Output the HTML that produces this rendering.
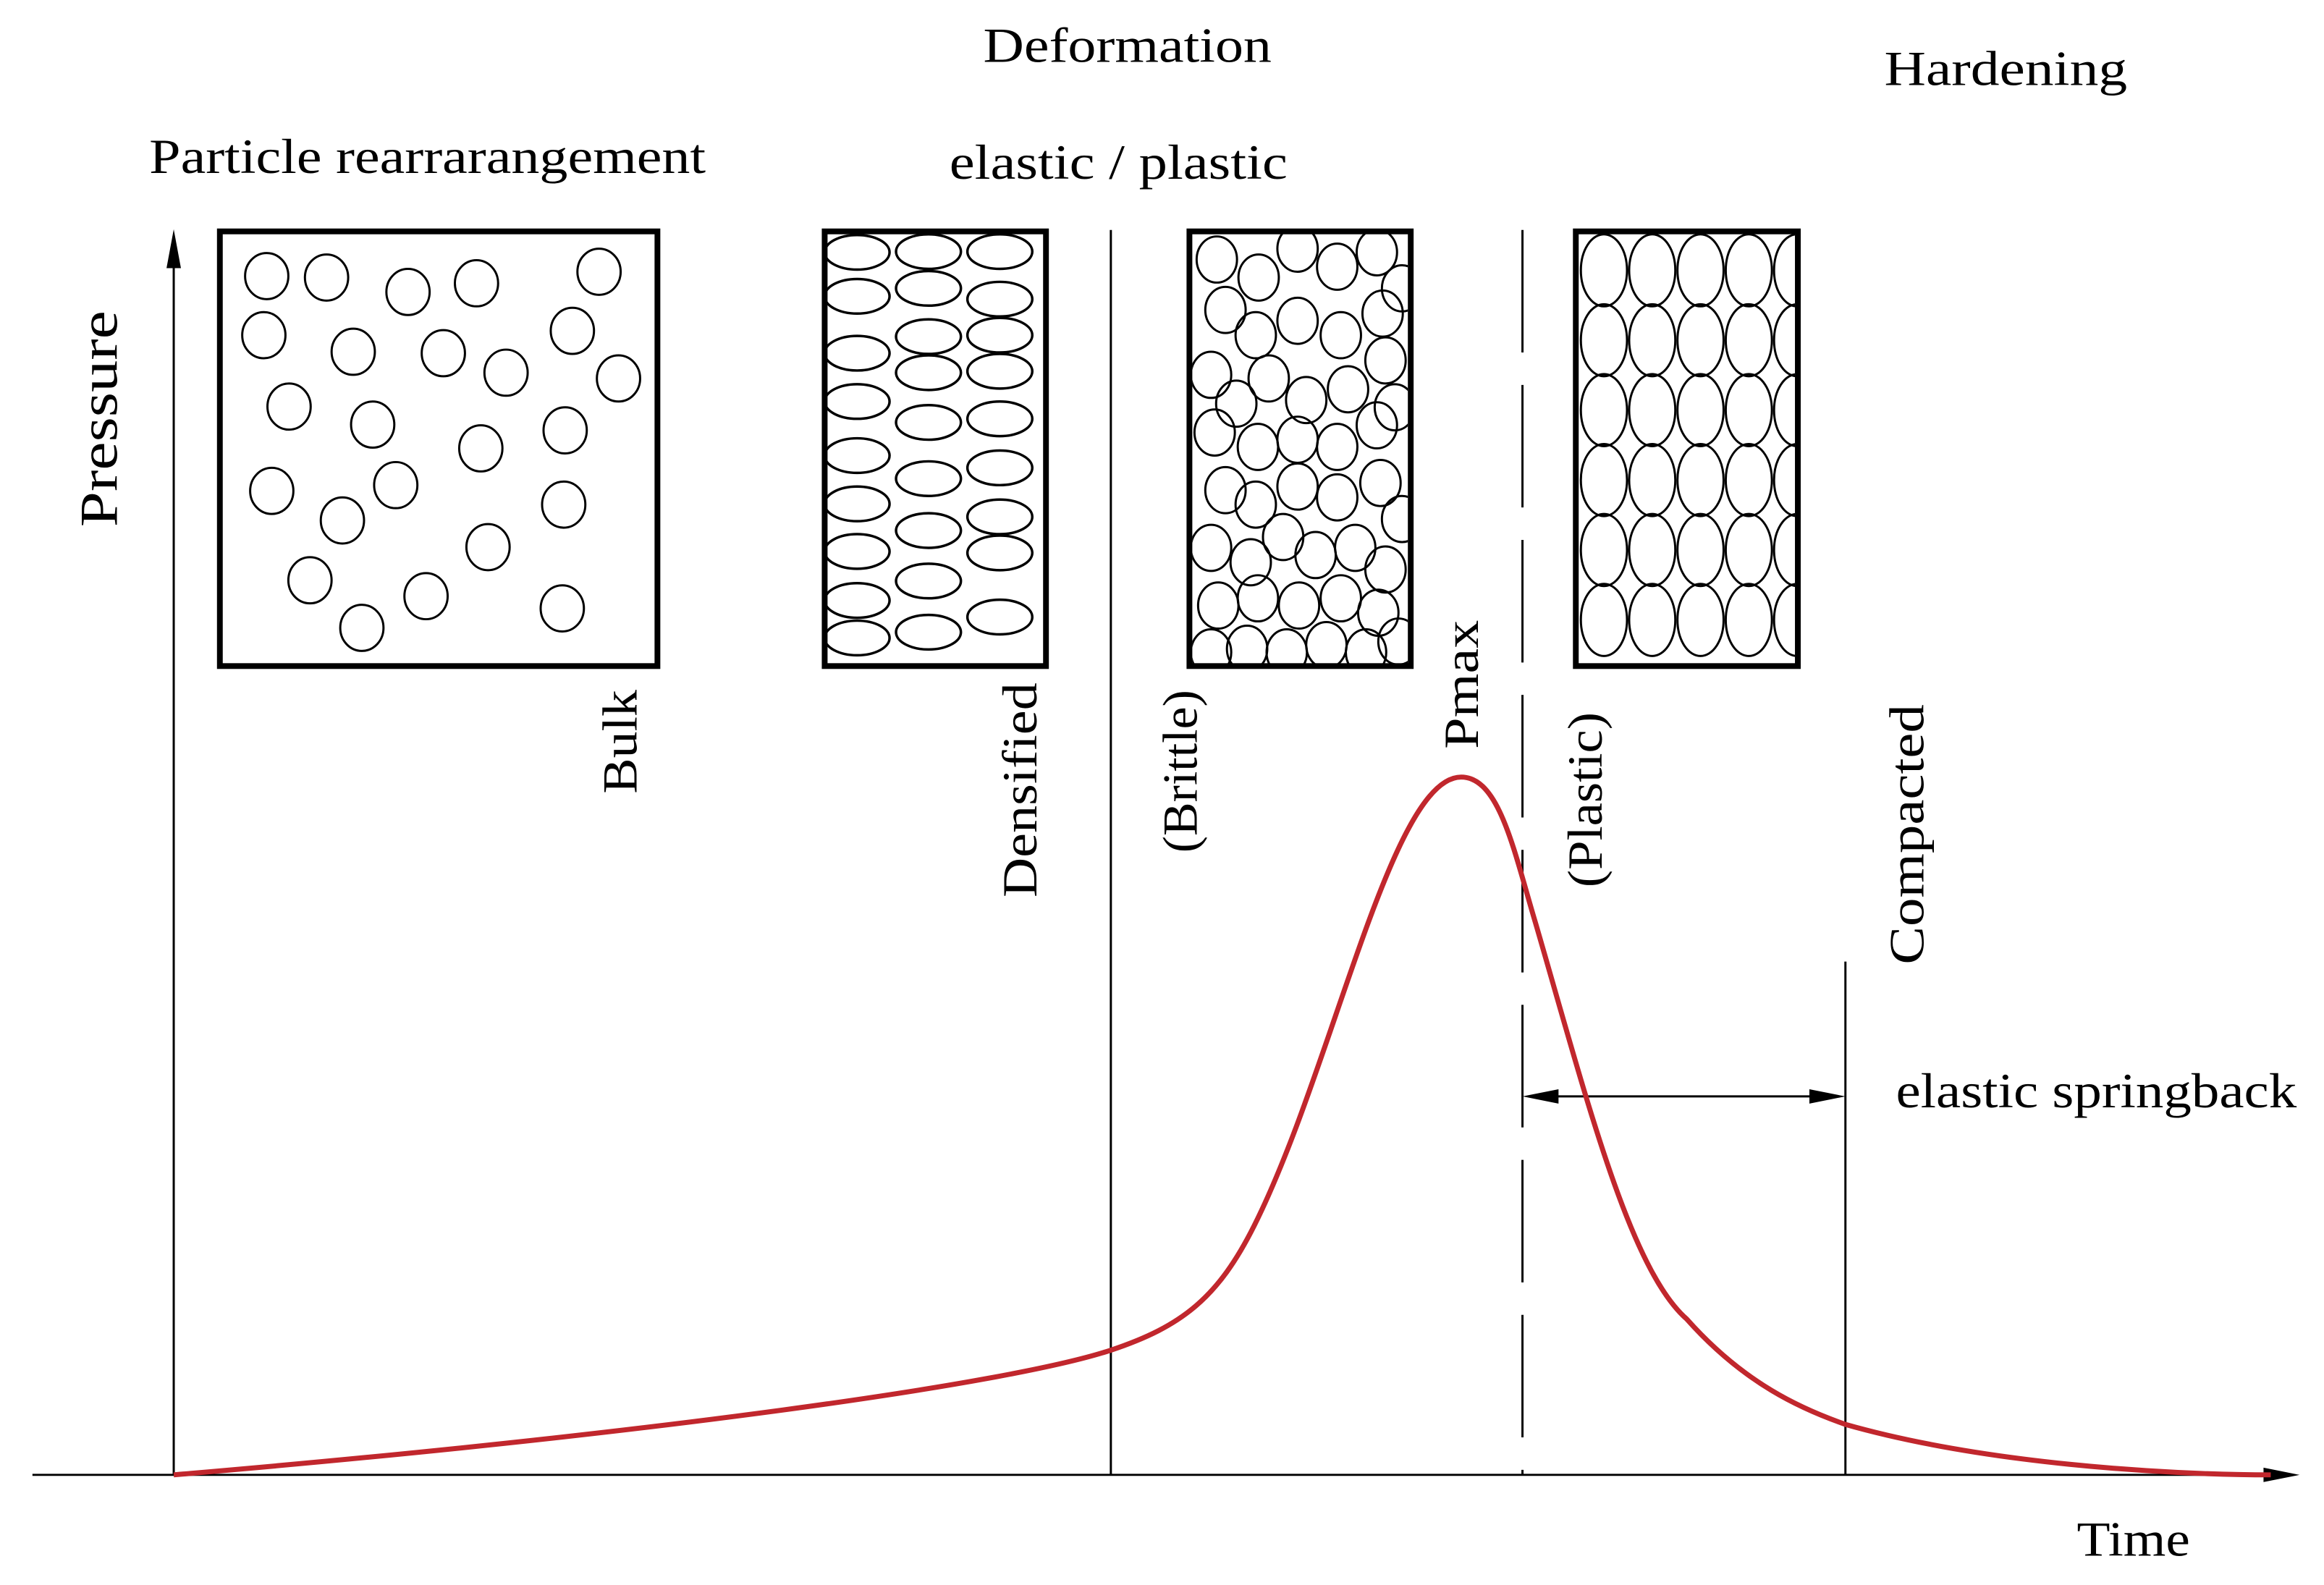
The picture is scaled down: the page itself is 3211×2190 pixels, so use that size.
<!DOCTYPE html>
<html><head><meta charset="utf-8"><style>
html,body{margin:0;padding:0;background:#fff;}
svg{display:block;}
text{font-family:"Liberation Serif",serif;fill:#000;}
</style></head><body>
<svg width="3211" height="2190" viewBox="0 0 3211 2190" xmlns="http://www.w3.org/2000/svg">
<defs>
<clipPath id="c3"><rect x="1654" y="323" width="299" height="600"/></clipPath>
<clipPath id="c4"><rect x="2190" y="323" width="300" height="600"/></clipPath>
</defs>
<rect width="3211" height="2190" fill="#fff"/>
<g transform="scale(0.996)">
<!-- axes -->
<line x1="241" y1="345" x2="241" y2="2046" stroke="#000" stroke-width="3"/>
<polygon points="241,318 231,372 251,372" fill="#000"/>
<line x1="45" y1="2046" x2="3150" y2="2046" stroke="#000" stroke-width="3"/>
<polygon points="3190,2046 3140,2036 3140,2056" fill="#000"/>

<!-- vertical lines -->
<line x1="1541" y1="319" x2="1541" y2="2046" stroke="#000" stroke-width="3"/>
<line x1="2112" y1="319" x2="2112" y2="2046" stroke="#000" stroke-width="3" stroke-dasharray="170,45"/>
<line x1="2560" y1="1334" x2="2560" y2="2046" stroke="#000" stroke-width="3"/>

<!-- springback arrow -->
<line x1="2130" y1="1521" x2="2542" y2="1521" stroke="#000" stroke-width="3"/>
<polygon points="2112,1521 2162,1511 2162,1531" fill="#000"/>
<polygon points="2560,1521 2510,1511 2510,1531" fill="#000"/>

<!-- curve -->
<path d="M241,2046 C900,1990 1400,1920 1541,1873 C1640,1840 1690,1800 1740,1700 C1850,1480 1930,1078 2027,1078 C2080,1078 2100,1180 2130,1280 C2200,1520 2260,1760 2340,1830 C2420,1920 2500,1955 2560,1976 C2750,2030 3000,2046 3150,2046" fill="none" stroke="#c1272d" stroke-width="7"/>

<!-- box 1 -->
<g fill="none" stroke="#000" stroke-width="3">
<ellipse cx="370" cy="383" rx="30" ry="32"/><ellipse cx="453" cy="385" rx="30" ry="32"/>
<ellipse cx="566" cy="405" rx="30" ry="32"/><ellipse cx="661" cy="393" rx="30" ry="32"/>
<ellipse cx="831" cy="377" rx="30" ry="32"/><ellipse cx="366" cy="465" rx="30" ry="32"/>
<ellipse cx="490" cy="488" rx="30" ry="32"/><ellipse cx="615" cy="490" rx="30" ry="32"/>
<ellipse cx="702" cy="517" rx="30" ry="32"/><ellipse cx="794" cy="459" rx="30" ry="32"/>
<ellipse cx="858" cy="525" rx="30" ry="32"/><ellipse cx="401" cy="564" rx="30" ry="32"/>
<ellipse cx="517" cy="589" rx="30" ry="32"/><ellipse cx="667" cy="622" rx="30" ry="32"/>
<ellipse cx="784" cy="597" rx="30" ry="32"/><ellipse cx="377" cy="681" rx="30" ry="32"/>
<ellipse cx="475" cy="722" rx="30" ry="32"/><ellipse cx="549" cy="673" rx="30" ry="32"/>
<ellipse cx="782" cy="700" rx="30" ry="32"/><ellipse cx="677" cy="759" rx="30" ry="32"/>
<ellipse cx="430" cy="805" rx="30" ry="32"/><ellipse cx="502" cy="871" rx="30" ry="32"/>
<ellipse cx="591" cy="827" rx="30" ry="32"/><ellipse cx="780" cy="844" rx="30" ry="32"/>
</g>
<rect x="305" y="321" width="607" height="603" fill="none" stroke="#000" stroke-width="8"/>

<!-- box 2 -->
<g fill="none" stroke="#000" stroke-width="3.5">
<ellipse cx="1189" cy="350" rx="45" ry="24"/><ellipse cx="1189" cy="411" rx="45" ry="24"/><ellipse cx="1189" cy="490" rx="45" ry="24"/><ellipse cx="1189" cy="557" rx="45" ry="24"/><ellipse cx="1189" cy="632" rx="45" ry="24"/><ellipse cx="1189" cy="699" rx="45" ry="24"/><ellipse cx="1189" cy="765" rx="45" ry="24"/><ellipse cx="1189" cy="833" rx="45" ry="24"/><ellipse cx="1189" cy="885" rx="45" ry="24"/>
<ellipse cx="1288" cy="349" rx="45" ry="24"/><ellipse cx="1288" cy="400" rx="45" ry="24"/><ellipse cx="1288" cy="467" rx="45" ry="24"/><ellipse cx="1288" cy="517" rx="45" ry="24"/><ellipse cx="1288" cy="586" rx="45" ry="24"/><ellipse cx="1288" cy="664" rx="45" ry="24"/><ellipse cx="1288" cy="736" rx="45" ry="24"/><ellipse cx="1288" cy="806" rx="45" ry="24"/><ellipse cx="1288" cy="877" rx="45" ry="24"/>
<ellipse cx="1387" cy="349" rx="45" ry="24"/><ellipse cx="1387" cy="415" rx="45" ry="24"/><ellipse cx="1387" cy="465" rx="45" ry="24"/><ellipse cx="1387" cy="515" rx="45" ry="24"/><ellipse cx="1387" cy="581" rx="45" ry="24"/><ellipse cx="1387" cy="649" rx="45" ry="24"/><ellipse cx="1387" cy="717" rx="45" ry="24"/><ellipse cx="1387" cy="767" rx="45" ry="24"/><ellipse cx="1387" cy="856" rx="45" ry="24"/>
</g>
<rect x="1144" y="321" width="307" height="603" fill="none" stroke="#000" stroke-width="8"/>

<!-- box 3 -->
<g fill="none" stroke="#000" stroke-width="3" clip-path="url(#c3)">
<ellipse cx="1688" cy="360" rx="28" ry="32"/><ellipse cx="1746" cy="385" rx="28" ry="32"/><ellipse cx="1800" cy="345" rx="28" ry="32"/><ellipse cx="1855" cy="370" rx="28" ry="32"/><ellipse cx="1910" cy="350" rx="28" ry="32"/><ellipse cx="1945" cy="400" rx="28" ry="32"/>
<ellipse cx="1700" cy="430" rx="28" ry="32"/><ellipse cx="1742" cy="465" rx="28" ry="32"/><ellipse cx="1800" cy="445" rx="28" ry="32"/><ellipse cx="1860" cy="465" rx="28" ry="32"/><ellipse cx="1918" cy="435" rx="28" ry="32"/>
<ellipse cx="1680" cy="520" rx="28" ry="32"/><ellipse cx="1715" cy="560" rx="28" ry="32"/><ellipse cx="1760" cy="525" rx="28" ry="32"/><ellipse cx="1812" cy="555" rx="28" ry="32"/><ellipse cx="1870" cy="540" rx="28" ry="32"/><ellipse cx="1922" cy="500" rx="28" ry="32"/><ellipse cx="1935" cy="565" rx="28" ry="32"/>
<ellipse cx="1685" cy="600" rx="28" ry="32"/><ellipse cx="1745" cy="620" rx="28" ry="32"/><ellipse cx="1800" cy="610" rx="28" ry="32"/><ellipse cx="1855" cy="620" rx="28" ry="32"/><ellipse cx="1910" cy="590" rx="28" ry="32"/>
<ellipse cx="1700" cy="680" rx="28" ry="32"/><ellipse cx="1742" cy="700" rx="28" ry="32"/><ellipse cx="1800" cy="675" rx="28" ry="32"/><ellipse cx="1855" cy="690" rx="28" ry="32"/><ellipse cx="1915" cy="670" rx="28" ry="32"/><ellipse cx="1945" cy="720" rx="28" ry="32"/>
<ellipse cx="1680" cy="760" rx="28" ry="32"/><ellipse cx="1735" cy="780" rx="28" ry="32"/><ellipse cx="1780" cy="745" rx="28" ry="32"/><ellipse cx="1825" cy="770" rx="28" ry="32"/><ellipse cx="1880" cy="760" rx="28" ry="32"/><ellipse cx="1922" cy="790" rx="28" ry="32"/>
<ellipse cx="1690" cy="840" rx="28" ry="32"/><ellipse cx="1745" cy="830" rx="28" ry="32"/><ellipse cx="1802" cy="840" rx="28" ry="32"/><ellipse cx="1860" cy="830" rx="28" ry="32"/><ellipse cx="1912" cy="850" rx="28" ry="32"/>
<ellipse cx="1680" cy="905" rx="28" ry="32"/><ellipse cx="1730" cy="900" rx="28" ry="32"/><ellipse cx="1785" cy="905" rx="28" ry="32"/><ellipse cx="1840" cy="895" rx="28" ry="32"/><ellipse cx="1895" cy="905" rx="28" ry="32"/><ellipse cx="1940" cy="890" rx="28" ry="32"/>
</g>
<rect x="1650" y="321" width="307" height="603" fill="none" stroke="#000" stroke-width="8"/>

<!-- box 4 -->
<g fill="none" stroke="#000" stroke-width="3" clip-path="url(#c4)">
<ellipse cx="2225" cy="375" rx="32" ry="50"/><ellipse cx="2225" cy="472" rx="32" ry="50"/><ellipse cx="2225" cy="569" rx="32" ry="50"/><ellipse cx="2225" cy="666" rx="32" ry="50"/><ellipse cx="2225" cy="763" rx="32" ry="50"/><ellipse cx="2225" cy="860" rx="32" ry="50"/>
<ellipse cx="2292" cy="375" rx="32" ry="50"/><ellipse cx="2292" cy="472" rx="32" ry="50"/><ellipse cx="2292" cy="569" rx="32" ry="50"/><ellipse cx="2292" cy="666" rx="32" ry="50"/><ellipse cx="2292" cy="763" rx="32" ry="50"/><ellipse cx="2292" cy="860" rx="32" ry="50"/>
<ellipse cx="2359" cy="375" rx="32" ry="50"/><ellipse cx="2359" cy="472" rx="32" ry="50"/><ellipse cx="2359" cy="569" rx="32" ry="50"/><ellipse cx="2359" cy="666" rx="32" ry="50"/><ellipse cx="2359" cy="763" rx="32" ry="50"/><ellipse cx="2359" cy="860" rx="32" ry="50"/>
<ellipse cx="2426" cy="375" rx="32" ry="50"/><ellipse cx="2426" cy="472" rx="32" ry="50"/><ellipse cx="2426" cy="569" rx="32" ry="50"/><ellipse cx="2426" cy="666" rx="32" ry="50"/><ellipse cx="2426" cy="763" rx="32" ry="50"/><ellipse cx="2426" cy="860" rx="32" ry="50"/>
<ellipse cx="2493" cy="375" rx="32" ry="50"/><ellipse cx="2493" cy="472" rx="32" ry="50"/><ellipse cx="2493" cy="569" rx="32" ry="50"/><ellipse cx="2493" cy="666" rx="32" ry="50"/><ellipse cx="2493" cy="763" rx="32" ry="50"/><ellipse cx="2493" cy="860" rx="32" ry="50"/>
</g>
<rect x="2186" y="321" width="308" height="603" fill="none" stroke="#000" stroke-width="8"/>

<!-- labels -->
<g font-size="68">
<text x="1364" y="86" textLength="400" lengthAdjust="spacingAndGlyphs">Deformation</text>
<text x="2614" y="118" textLength="337" lengthAdjust="spacingAndGlyphs">Hardening</text>
<text x="207" y="240" textLength="772" lengthAdjust="spacingAndGlyphs">Particle rearrarangement</text>
<text x="1317" y="248" textLength="469" lengthAdjust="spacingAndGlyphs">elastic  / plastic</text>
<text x="2630" y="1536" textLength="556" lengthAdjust="spacingAndGlyphs">elastic springback</text>
<text x="2881" y="2158" textLength="157" lengthAdjust="spacingAndGlyphs">Time</text>
<text transform="translate(883,1101) rotate(-90)" textLength="144" lengthAdjust="spacingAndGlyphs">Bulk</text>
<text transform="translate(1438,1245) rotate(-90)" textLength="298" lengthAdjust="spacingAndGlyphs">Densified</text>
<text transform="translate(1660,1183) rotate(-90)" textLength="226" lengthAdjust="spacingAndGlyphs">(Brittle)</text>
<text transform="translate(2050,1039) rotate(-90)" textLength="179" lengthAdjust="spacingAndGlyphs">Pmax</text>
<text transform="translate(2222,1231) rotate(-90)" textLength="243" lengthAdjust="spacingAndGlyphs">(Plastic)</text>
<text transform="translate(2668,1338) rotate(-90)" textLength="361" lengthAdjust="spacingAndGlyphs">Compacted</text>
<text transform="translate(162,731) rotate(-90)" font-size="74" textLength="300" lengthAdjust="spacingAndGlyphs">Pressure</text>
</g>
</g>
</svg>
</body></html>
